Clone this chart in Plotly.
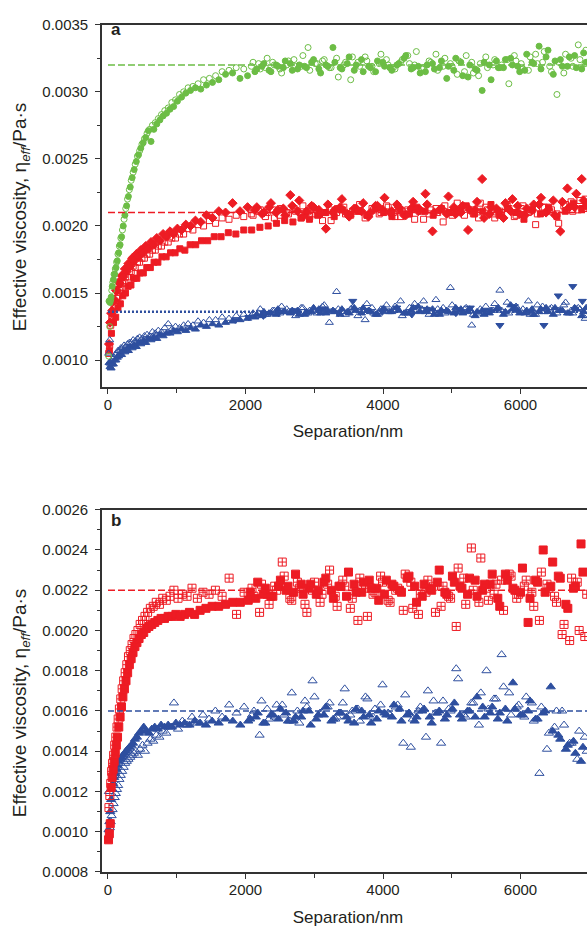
import plotly.graph_objects as go

# ---------------------------------------------------------------------------
# Effective viscosity vs. separation (values stored in mPa·s, separation in nm)
# ---------------------------------------------------------------------------
MPAS_TO_PAS = 1e-3

# ---- panel a: separation grids -------------------------------------------
sep_a1 = [
    10, 25, 40, 55, 70,
    88, 106, 125, 145, 165,
    187, 210, 234, 258, 284,
    310, 338, 366, 396, 428,
    460, 494, 530, 568, 606,
    646, 688, 732, 778, 826,
    876, 928, 982, 1040, 1100,
    1165, 1235, 1310, 1390, 1475,
    1565, 1660, 1760, 1865, 1975,
    2085, 2190, 2290, 2395, 2500,
    2600, 2705, 2810, 2910, 3015,
    3120, 3220, 3325, 3430, 3530,
    3635, 3740, 3840, 3945, 4050,
    4150, 4255, 4360, 4460, 4565,
    4670, 4770, 4875, 4980, 5080,
    5185, 5290, 5390, 5495, 5600,
    5700, 5805, 5910, 6010, 6115,
    6220, 6320, 6425, 6530, 6630,
    6735, 6840, 6940,
]
sep_a2 = [
    15, 30, 46, 62, 79,
    97, 116, 135, 155, 176,
    198, 222, 246, 271, 297,
    324, 352, 381, 412, 444,
    477, 512, 549, 587, 626,
    667, 710, 755, 802, 851,
    902, 955, 1010, 1070, 1132,
    1200, 1272, 1350, 1432, 1520,
    1612, 1710, 1812, 1920, 2030,
    2137, 2240, 2342, 2447, 2550,
    2652, 2757, 2860, 2962, 3067,
    3170, 3272, 3377, 3480, 3582,
    3687, 3790, 3892, 3997, 4100,
    4202, 4307, 4410, 4512, 4617,
    4720, 4822, 4927, 5030, 5132,
    5237, 5340, 5442, 5547, 5650,
    5752, 5857, 5960, 6062, 6167,
    6270, 6372, 6477, 6580, 6682,
    6787, 6890,
]
sep_a3 = [
    20, 50, 80, 112, 145,
    180, 216, 254, 293, 334,
    376, 420, 466, 514, 564,
    616, 670, 726, 785, 846,
    910, 976, 1045, 1118, 1195,
    1276, 1360, 1450, 1545, 1645,
    1750, 1860, 1975, 2090, 2210,
    2330, 2450, 2570, 2690, 2810,
    2930, 3050, 3170, 3290, 3410,
    3530, 3650, 3770, 3890, 4010,
    4130, 4250, 4370, 4490, 4610,
    4730, 4850, 4970, 5090, 5210,
    5330, 5450, 5570, 5690, 5810,
    5930, 6050, 6170, 6290, 6410,
    6530, 6650, 6770, 6890,
]
sep_a_down = [
    1850, 2050, 2260, 2480, 2700,
    2920, 3130, 3350, 3560, 3770,
    3990, 4200, 4420, 4630, 4850,
    5060, 5270, 5490, 5700, 5910,
    6130, 6340, 6550, 6760, 6900,
]
# repeat runs recorded over the plateau only
sep_a_far = [
    2110, 2215, 2315, 2420, 2525,
    2625, 2730, 2835, 2935, 3040,
    3145, 3245, 3350, 3455, 3555,
    3660, 3765, 3865, 3970, 4075,
    4175, 4280, 4385, 4485, 4590,
    4695, 4795, 4900, 5005, 5105,
    5210, 5315, 5415, 5520, 5625,
    5725, 5830, 5935, 6035, 6140,
    6245, 6345, 6450, 6555, 6655,
    6760, 6865, 6950,
]
sep_a_far2 = [
    2165, 2268, 2370, 2472, 2578,
    2680, 2782, 2888, 2990, 3092,
    3198, 3300, 3402, 3508, 3610,
    3712, 3818, 3920, 4022, 4128,
    4230, 4332, 4438, 4540, 4642,
    4748, 4850, 4952, 5058, 5160,
    5262, 5368, 5470, 5572, 5678,
    5780, 5882, 5988, 6090, 6192,
    6298, 6400, 6502, 6608, 6710,
    6812, 6918, 6955,
]

# ---- panel a: viscosities (mPa·s) ----------------------------------------
green_open = [
    1.03, 1.25, 1.45, 1.52, 1.58,
    1.64, 1.68, 1.73, 1.79, 1.85,
    1.91, 1.97, 2.05, 2.13, 2.20,
    2.27, 2.34, 2.40, 2.46, 2.52,
    2.56, 2.61, 2.65, 2.69, 2.72,
    2.75, 2.77, 2.80, 2.83, 2.86,
    2.88, 2.92, 2.94, 2.98, 3.00,
    3.03, 3.04, 3.06, 3.09, 3.10,
    3.12, 3.15, 3.16, 3.18, 3.17,
    3.19, 3.21, 3.18, 3.22, 3.17,
    3.20, 3.24, 3.19, 3.33, 3.21,
    3.23, 3.18, 3.25, 3.20, 3.09,
    3.22, 3.26, 3.19, 3.21, 3.24,
    3.18, 3.22, 3.27, 3.20, 3.17,
    3.23, 3.28, 3.19, 3.21, 3.13,
    3.15, 3.22, 3.12, 3.26, 3.20,
    3.18, 3.24, 3.27, 3.21, 3.16,
    3.28, 3.22, 3.19, 2.98, 3.14,
    3.25, 3.35, 3.21,
]
green_fill = [
    1.44, 1.43, 1.47, 1.55, 1.60,
    1.64, 1.69, 1.74, 1.80, 1.86,
    1.92, 2.00, 2.08, 2.15, 2.22,
    2.29, 2.36, 2.42, 2.48, 2.53,
    2.58, 2.62, 2.66, 2.71, 2.63,
    2.72, 2.76, 2.79, 2.82, 2.84,
    2.87, 2.89, 2.93, 2.96, 2.99,
    3.01, 3.03, 3.02, 3.05, 3.07,
    3.09, 3.13, 3.14, 3.10, 3.12,
    3.15, 3.19, 3.16, 3.20, 3.18,
    3.21, 3.17, 3.19, 3.22, 3.17,
    3.20, 3.33, 3.18, 3.21, 3.16,
    3.24, 3.19, 3.15, 3.22, 3.18,
    3.20, 3.25, 3.17, 3.19, 3.15,
    3.21, 3.18, 3.10, 3.16, 3.22,
    3.11, 3.17, 3.01, 3.20, 3.23,
    3.18, 3.25, 3.19, 3.16, 3.22,
    3.34, 3.26, 3.13, 3.24, 3.19,
    3.27, 3.17,
]
green_open_far = [
    3.22, 3.17, 3.25, 3.20, 3.14,
    3.23, 3.19, 3.27, 3.16, 3.21,
    3.24, 3.18, 3.11, 3.22, 3.26,
    3.19, 3.23, 3.15, 3.28, 3.20,
    3.17, 3.24, 3.21, 3.30, 3.18,
    3.22, 3.16, 3.25, 3.19, 3.23,
    3.27, 3.14, 3.21, 3.18, 3.24,
    3.20, 3.06, 3.23, 3.17, 3.26,
    3.21, 3.30, 3.15, 3.22, 3.28,
    3.19, 3.24, 3.31,
]
green_fill_far = [
    3.17, 3.21, 3.15, 3.19, 3.23,
    3.16, 3.20, 3.18, 3.24, 3.14,
    3.19, 3.22, 3.17, 3.26, 3.20,
    3.15, 3.18, 3.23, 3.19, 3.16,
    3.21, 3.27, 3.18, 3.14, 3.20,
    3.17, 3.23, 3.19, 3.25, 3.12,
    3.20, 3.16, 3.22, 3.09, 3.18,
    3.24, 3.20, 3.15, 3.28, 3.21,
    3.17, 3.31, 3.23, 3.19, 3.26,
    3.18, 3.29, 3.22,
]
red_diamond = [
    1.12, 1.28, 1.35, 1.37, 1.44,
    1.45, 1.52, 1.52, 1.58, 1.57,
    1.63, 1.62, 1.68, 1.66, 1.72,
    1.70, 1.76, 1.74, 1.79, 1.77,
    1.82, 1.80, 1.85, 1.83, 1.88,
    1.86, 1.91, 1.89, 1.94, 1.92,
    1.96, 1.94, 1.98, 1.97, 2.01,
    2.00, 2.04, 2.03, 2.08, 2.06,
    2.11, 2.10, 2.17, 2.11, 2.14,
    2.12, 2.09, 2.14, 2.10, 2.13,
    2.23, 2.11, 2.08, 2.15, 2.12,
    1.98, 2.10, 2.14, 2.09, 2.13,
    2.11, 2.07, 2.15, 2.12, 2.10,
    2.16, 2.08, 2.13, 2.11, 2.24,
    1.96, 2.12, 2.09, 2.14, 2.10,
    1.97, 2.12, 2.35, 2.09, 2.13,
    2.06, 2.11, 2.15, 2.08, 2.12,
    2.16, 2.10, 2.19, 1.96, 2.28,
    2.14, 2.35,
]
red_diamond_far = [
    2.14, 2.10, 2.17, 2.12, 2.08,
    2.15, 2.19, 2.11, 2.14, 2.09,
    2.16, 2.12, 2.20, 2.07, 2.13,
    2.17, 2.10, 2.15, 2.21, 2.11,
    2.14, 2.08, 2.18, 2.12, 2.16,
    2.10, 2.13, 2.22, 2.09, 2.15,
    2.12, 2.18, 2.06, 2.14, 2.11,
    2.17, 2.20, 2.09, 2.13, 2.16,
    2.21, 2.12, 2.08, 2.18, 2.14,
    2.24, 2.19, 2.15,
]
red_open_sq = [
    1.05, 1.11, 1.26, 1.31, 1.33,
    1.39, 1.40, 1.46, 1.47, 1.52,
    1.53, 1.57, 1.58, 1.62, 1.62,
    1.66, 1.66, 1.70, 1.69, 1.73,
    1.73, 1.76, 1.76, 1.79, 1.79,
    1.82, 1.82, 1.85, 1.85, 1.88,
    1.88, 1.91, 1.91, 1.94, 1.94,
    1.98, 1.97, 2.01, 2.00, 2.04,
    2.02, 2.06, 2.05, 2.08, 2.07,
    2.09, 2.11, 2.07, 2.12, 2.08,
    2.10, 2.13, 2.06, 2.11, 2.09,
    2.04, 2.12, 2.10, 2.14, 2.08,
    2.11, 2.06, 2.13, 2.09, 2.15,
    2.10, 2.07, 2.12, 2.05, 2.11,
    2.09, 2.13, 2.03, 2.10, 2.17,
    2.08, 2.12, 2.06, 2.14, 2.09,
    2.11, 2.16, 2.07, 2.13, 2.10,
    2.01, 2.14, 2.11, 2.09, 2.15,
    2.18, 2.12, 2.20,
]
red_open_sq_far = [
    2.08, 2.12, 2.10, 2.06, 2.13,
    2.09, 2.11, 2.15, 2.07, 2.12,
    2.10, 2.04, 2.13, 2.09, 2.11,
    2.16, 2.08, 2.12, 2.10, 2.14,
    2.07, 2.11, 2.09, 2.13, 2.05,
    2.12, 2.10, 2.15, 2.08, 2.11,
    2.14, 2.09, 2.17, 2.12, 2.06,
    2.10, 2.13, 2.08, 2.15, 2.11,
    2.09, 2.14, 2.12, 2.02, 2.16,
    2.11, 2.19, 2.13,
]
red_fill_sq = [
    1.07, 1.20, 1.28, 1.32, 1.39,
    1.42, 1.48, 1.50, 1.55, 1.56,
    1.61, 1.61, 1.65, 1.65, 1.69,
    1.69, 1.73, 1.73, 1.77, 1.77,
    1.80, 1.80, 1.83, 1.82, 1.86,
    1.86, 1.89, 1.89, 1.92, 1.92,
    1.95, 1.94, 1.97, 1.97, 1.99,
    2.00, 2.02, 2.04, 2.03, 2.06,
    2.05, 2.08, 2.10, 2.07, 2.12,
    2.09, 2.11, 2.08, 2.13, 2.10,
    2.07, 2.12, 2.09, 2.14, 2.11,
    2.08, 2.13, 2.10, 2.12, 2.15,
    2.09, 2.11, 2.16, 2.08, 2.13,
    2.10, 2.05, 2.12, 2.09, 2.14,
    2.07, 2.11, 2.17, 2.13,
]
blue_open_tri = [
    1.05, 1.15, 0.97, 0.99, 1.01,
    1.02, 1.04, 1.05, 1.07, 1.07,
    1.09, 1.09, 1.11, 1.10, 1.12,
    1.13, 1.13, 1.15, 1.14, 1.16,
    1.17, 1.16, 1.18, 1.19, 1.18,
    1.21, 1.20, 1.22, 1.21, 1.24,
    1.27, 1.23, 1.25, 1.24, 1.26,
    1.27, 1.26, 1.29, 1.28, 1.30,
    1.30, 1.32, 1.31, 1.33, 1.34,
    1.33, 1.35, 1.34, 1.37, 1.35,
    1.38, 1.36, 1.39, 1.35, 1.37,
    1.40, 1.28, 1.51, 1.36, 1.38,
    1.33, 1.30, 1.39, 1.36, 1.41,
    1.37, 1.44, 1.35, 1.42, 1.38,
    1.34, 1.45, 1.39, 1.54, 1.36,
    1.38, 1.26, 1.35, 1.40, 1.37,
    1.52, 1.43, 1.39, 1.36, 1.44,
    1.34, 1.40, 1.38, 1.35, 1.41,
    1.37, 1.39, 1.31,
]
blue_open_tri_far = [
    1.35, 1.38, 1.34, 1.37, 1.40,
    1.36, 1.33, 1.39, 1.37, 1.35,
    1.41, 1.36, 1.38, 1.34, 1.39,
    1.37, 1.42, 1.35, 1.38, 1.36,
    1.40, 1.33, 1.39, 1.37, 1.44,
    1.36, 1.38, 1.35, 1.41, 1.37,
    1.39, 1.34, 1.38, 1.36, 1.42,
    1.37, 1.35, 1.40, 1.38, 1.34,
    1.41, 1.36, 1.39, 1.37, 1.43,
    1.35, 1.38, 1.33,
]
blue_fill_tri = [
    0.98, 0.95, 0.94, 0.97, 0.97,
    1.00, 1.00, 1.02, 1.03, 1.05,
    1.04, 1.07, 1.06, 1.08, 1.07,
    1.10, 1.09, 1.11, 1.10, 1.13,
    1.12, 1.14, 1.13, 1.16, 1.15,
    1.17, 1.16, 1.19, 1.18, 1.20,
    1.20, 1.22, 1.21, 1.23, 1.22,
    1.24, 1.23, 1.26, 1.25, 1.27,
    1.26, 1.28, 1.29, 1.30, 1.31,
    1.32, 1.33, 1.35, 1.34, 1.36,
    1.35, 1.37, 1.34, 1.36, 1.38,
    1.35, 1.37, 1.34, 1.36, 1.39,
    1.35, 1.37, 1.34, 1.38, 1.36,
    1.39, 1.35, 1.37, 1.40, 1.36,
    1.38, 1.34, 1.37, 1.35, 1.38,
    1.36, 1.33, 1.37, 1.35, 1.38,
    1.34, 1.41, 1.37, 1.35, 1.38,
    1.36, 1.39, 1.34, 1.37, 1.35,
    1.39, 1.33,
]
blue_fill_tri_far = [
    1.34, 1.36, 1.35, 1.38, 1.36,
    1.37, 1.34, 1.36, 1.39, 1.35,
    1.37, 1.36, 1.38, 1.35, 1.37,
    1.39, 1.36, 1.34, 1.38, 1.36,
    1.37, 1.35, 1.39, 1.36, 1.38,
    1.34, 1.37, 1.36, 1.39, 1.35,
    1.38, 1.36, 1.34, 1.37, 1.39,
    1.36, 1.38, 1.35, 1.37, 1.34,
    1.38, 1.36, 1.39, 1.37, 1.35,
    1.38, 1.36, 1.39,
]
blue_down_tri = [
    1.30, 1.32, 1.33, 1.35, 1.37,
    1.36, 1.38, 1.35, 1.44, 1.37,
    1.36, 1.39, 1.34, 1.38, 1.36,
    1.35, 1.39, 1.37, 1.26, 1.40,
    1.36, 1.26, 1.48, 1.55, 1.44,
]
plateau_a = {"green": 3.20, "red": 2.10, "blue": 1.36}

# ---- panel b --------------------------------------------------------------
sep_b1 = [
    8, 20, 33, 46, 60,
    75, 90, 106, 122, 139,
    157, 176, 196, 217, 239,
    262, 286, 311, 337, 364,
    392, 421, 452, 485, 520,
    557, 596, 637, 680, 725,
    772, 822, 875, 930, 988,
    1050, 1115, 1185, 1260, 1340,
    1425, 1515, 1610, 1710, 1815,
    1925, 2040, 2150, 2260, 2370,
    2480, 2590, 2700, 2810, 2920,
    3030, 3140, 3250, 3360, 3470,
    3580, 3690, 3800, 3910, 4020,
    4130, 4240, 4350, 4460, 4570,
    4680, 4790, 4900, 5010, 5120,
    5230, 5340, 5450, 5560, 5670,
    5780, 5890, 6000, 6110, 6220,
    6330, 6440, 6550, 6660, 6770,
    6880,
]
sep_b2 = [
    14, 27, 40, 53, 67,
    82, 98, 114, 131, 148,
    166, 186, 206, 228, 250,
    274, 298, 324, 350, 378,
    406, 436, 468, 502, 538,
    576, 616, 658, 702, 748,
    797, 848, 902, 959, 1019,
    1082, 1150, 1222, 1300, 1382,
    1470, 1562, 1660, 1762, 1870,
    1980, 2095, 2205, 2315, 2425,
    2535, 2645, 2755, 2865, 2975,
    3085, 3195, 3305, 3415, 3525,
    3635, 3745, 3855, 3965, 4075,
    4185, 4295, 4405, 4515, 4625,
    4735, 4845, 4955, 5065, 5175,
    5285, 5395, 5505, 5615, 5725,
    5835, 5945, 6055, 6165, 6275,
    6385, 6495, 6605, 6715, 6825,
    6935,
]
sep_b_far = [
    2068, 2178, 2288, 2398, 2508,
    2618, 2728, 2838, 2948, 3058,
    3168, 3278, 3388, 3498, 3608,
    3718, 3828, 3938, 4048, 4158,
    4268, 4378, 4488, 4598, 4708,
    4818, 4928, 5038, 5148, 5258,
    5368, 5478, 5588, 5698, 5808,
    5918, 6028, 6138, 6248, 6358,
    6468, 6578, 6688, 6798, 6908,
]
sep_b_far2 = [
    2123, 2233, 2343, 2453, 2563,
    2673, 2783, 2893, 3003, 3113,
    3223, 3333, 3443, 3553, 3663,
    3773, 3883, 3993, 4103, 4213,
    4323, 4433, 4543, 4653, 4763,
    4873, 4983, 5093, 5203, 5313,
    5423, 5533, 5643, 5753, 5863,
    5973, 6083, 6193, 6303, 6413,
    6523, 6633, 6743, 6853, 6963,
]
red_b_fill = [
    0.96, 0.99, 1.04, 1.22, 1.27,
    1.31, 1.35, 1.39, 1.43, 1.47,
    1.52, 1.57, 1.62, 1.67, 1.71,
    1.75, 1.79, 1.83, 1.86, 1.89,
    1.92, 1.94, 1.96, 1.98, 1.99,
    2.01, 2.02, 2.03, 2.04, 2.05,
    2.06, 2.06, 2.07, 2.07, 2.08,
    2.07, 2.08, 2.09, 2.08, 2.10,
    2.11, 2.12, 2.12, 2.13, 2.14,
    2.14, 2.15, 2.16, 2.18, 2.17,
    2.22, 2.20, 2.19, 2.23, 2.21,
    2.18, 2.24, 2.20, 2.22, 2.17,
    2.23, 2.19, 2.25, 2.21, 2.18,
    2.23, 2.20, 2.26, 2.22, 2.17,
    2.21, 2.24, 2.19, 2.27, 2.22,
    2.18, 2.25, 2.20, 2.23, 2.16,
    2.28, 2.21, 2.19, 2.04, 2.25,
    2.40, 2.22, 2.27, 2.13, 2.21,
    2.43,
]
red_b_fill_far = [
    2.19, 2.24, 2.21, 2.17, 2.25,
    2.22, 2.28, 2.18, 2.23, 2.20,
    2.26, 2.16, 2.22, 2.29, 2.19,
    2.24, 2.21, 2.15, 2.25, 2.22,
    2.19, 2.27, 2.14, 2.23, 2.20,
    2.30, 2.18, 2.24, 2.21, 2.26,
    2.17, 2.23, 2.28, 2.12, 2.25,
    2.20, 2.31, 2.16, 2.24, 2.19,
    2.34, 2.26, 2.11, 2.22, 2.29,
]
red_b_grid = [
    1.12, 1.18, 1.24, 1.30, 1.34,
    1.38, 1.43, 1.47, 1.52, 1.56,
    1.61, 1.66, 1.71, 1.75, 1.79,
    1.83, 1.87, 1.90, 1.93, 1.96,
    1.98, 2.00, 2.03, 2.05, 2.07,
    2.09, 2.11, 2.12, 2.14, 2.13,
    2.16, 2.15, 2.17, 2.20, 2.16,
    2.18, 2.17, 2.21, 2.16, 2.19,
    2.18, 2.20, 2.17, 2.26, 2.08,
    2.19, 2.21, 2.09, 2.18, 2.22,
    2.34, 2.16, 2.24, 2.13, 2.20,
    2.14, 2.23, 2.17, 2.25, 2.11,
    2.05, 2.21, 2.18, 2.27, 2.15,
    2.20, 2.10, 2.24, 2.08, 2.19,
    2.22, 2.12, 2.17, 2.02, 2.26,
    2.41, 2.14, 2.21, 2.18, 2.25,
    2.28, 2.16, 2.22, 2.19, 2.05,
    2.23, 2.17, 1.98, 1.95, 2.24,
    1.97,
]
red_b_grid_far = [
    2.17, 2.23, 2.13, 2.20, 2.27,
    2.15, 2.21, 2.09, 2.24, 2.18,
    2.30, 2.12, 2.22, 2.16, 2.26,
    2.07, 2.19, 2.24, 2.14, 2.21,
    2.28, 2.11, 2.18, 2.25, 2.09,
    2.22, 2.16, 2.31, 2.13, 2.20,
    2.36, 2.15, 2.23, 2.10, 2.27,
    2.18, 2.25, 2.12, 2.29, 2.21,
    2.14, 2.03, 2.26, 2.00, 2.18,
]
blue_b_fill = [
    1.01, 1.05, 1.10, 1.16, 1.21,
    1.24, 1.27, 1.29, 1.31, 1.33,
    1.35, 1.36, 1.37, 1.38, 1.39,
    1.40, 1.41, 1.42, 1.43, 1.44,
    1.46, 1.47, 1.49, 1.50, 1.52,
    1.50, 1.49, 1.51, 1.52, 1.51,
    1.53, 1.52, 1.53, 1.52, 1.54,
    1.53, 1.54, 1.53, 1.55, 1.54,
    1.53, 1.55, 1.54, 1.56, 1.55,
    1.53, 1.55, 1.57, 1.54, 1.58,
    1.56, 1.59, 1.55, 1.57, 1.60,
    1.56, 1.58, 1.55, 1.59, 1.57,
    1.54, 1.60, 1.58, 1.56, 1.59,
    1.57, 1.61, 1.58, 1.55, 1.60,
    1.57, 1.59, 1.56, 1.61, 1.58,
    1.60, 1.57, 1.62, 1.59, 1.56,
    1.61, 1.74, 1.58, 1.60, 1.56,
    1.59, 1.72, 1.48, 1.41, 1.45,
    1.35,
]
blue_b_fill_far = [
    1.56, 1.59, 1.54, 1.58, 1.61,
    1.55, 1.57, 1.60, 1.53, 1.58,
    1.62, 1.56, 1.59, 1.55, 1.61,
    1.57, 1.54, 1.60, 1.58, 1.63,
    1.55, 1.59, 1.57, 1.61, 1.54,
    1.60, 1.58, 1.64, 1.56, 1.60,
    1.67, 1.57, 1.62, 1.59, 1.55,
    1.61, 1.58, 1.65, 1.56, 1.60,
    1.50, 1.46, 1.43, 1.39, 1.42,
]
blue_b_open = [
    1.20, 1.02, 1.05, 1.08, 1.11,
    1.14, 1.17, 1.19, 1.21, 1.23,
    1.26, 1.28, 1.30, 1.32, 1.34,
    1.35, 1.36, 1.37, 1.38, 1.39,
    1.40, 1.38, 1.41, 1.43, 1.40,
    1.44, 1.46, 1.45, 1.48, 1.47,
    1.50, 1.49, 1.52, 1.64, 1.51,
    1.55, 1.53, 1.57, 1.54, 1.58,
    1.56, 1.60, 1.57, 1.63, 1.59,
    1.62, 1.58, 1.48, 1.61, 1.57,
    1.63, 1.55, 1.60, 1.65, 1.75,
    1.59, 1.62, 1.56, 1.64, 1.58,
    1.61, 1.67, 1.57, 1.63, 1.59,
    1.62, 1.44, 1.42, 1.60, 1.47,
    1.65, 1.44, 1.61, 1.81, 1.58,
    1.64, 1.53, 1.80, 1.66, 1.88,
    1.69, 1.62, 1.57, 1.64, 1.29,
    1.41, 1.52, 1.60, 1.44, 1.36,
    1.47,
]
blue_b_open_far = [
    1.60, 1.65, 1.56, 1.63, 1.58,
    1.69, 1.54, 1.62, 1.67, 1.59,
    1.64, 1.57, 1.71, 1.60, 1.55,
    1.66, 1.61, 1.73, 1.58, 1.63,
    1.68, 1.56, 1.62, 1.70, 1.59,
    1.65, 1.60, 1.76, 1.57, 1.64,
    1.69, 1.61, 1.66, 1.72, 1.58,
    1.63, 1.67, 1.55, 1.62, 1.49,
    1.60, 1.53, 1.44, 1.50, 1.40,
]
plateau_b = {"red": 2.20, "blue": 1.60}

plateau_span = [0, 7000]  # separation range covered by the bulk-value lines (nm)

# ---------------------------------------------------------------------------
GREEN = "#6cbd45"
RED = "#ed1c24"
BLUE = "#2e4f9f"
AXIS = "#333333"
TEXT = "#231f20"
FONT = "Liberation Sans, Arial, sans-serif"

W, H = 587, 934
X_RANGE = [-87, 6967]
PLOT_LEFT = 102


def pas(vals):
    return [v * MPAS_TO_PAS for v in vals]


def fx(px):
    return px / W


def fy(px):
    return 1 - px / H


fig = go.Figure()


def add_points(xs, ys, symbol, color, size, axes, lw=1.0):
    xa, ya = axes
    fig.add_trace(go.Scatter(
        x=xs, y=pas(ys), mode="markers", xaxis=xa, yaxis=ya,
        marker=dict(symbol=symbol, color=color, size=size,
                    line=dict(color=color, width=lw)),
        showlegend=False, hoverinfo="skip",
    ))


def add_plateau(level, color, dash, axes, width=1.5):
    xa, ya = axes
    fig.add_trace(go.Scatter(
        x=plateau_span, y=pas([level, level]), mode="lines",
        xaxis=xa, yaxis=ya,
        line=dict(color=color, dash=dash, width=width),
        showlegend=False, hoverinfo="skip",
    ))


A = ("x", "y")
B = ("x2", "y2")

# panel a
add_points(sep_a3, red_fill_sq, "square", RED, 6, A)
add_points(sep_a2, red_diamond, "diamond", RED, 7, A)
add_points(sep_a_far2, red_diamond_far, "diamond", RED, 7, A)
add_points(sep_a1, red_open_sq, "square-open", RED, 6, A)
add_points(sep_a_far, red_open_sq_far, "square-open", RED, 6, A)
add_points(sep_a2, blue_fill_tri, "triangle-up", BLUE, 7, A)
add_points(sep_a_far2, blue_fill_tri_far, "triangle-up", BLUE, 7, A)
add_points(sep_a_down, blue_down_tri, "triangle-down", BLUE, 7, A)
add_points(sep_a1, blue_open_tri, "triangle-up-open", BLUE, 7, A)
add_points(sep_a_far, blue_open_tri_far, "triangle-up-open", BLUE, 7, A)
add_points(sep_a2, green_fill, "circle", GREEN, 6, A)
add_points(sep_a_far2, green_fill_far, "circle", GREEN, 6, A)
add_points(sep_a1, green_open, "circle-open", GREEN, 6, A)
add_points(sep_a_far, green_open_far, "circle-open", GREEN, 6, A)
add_plateau(plateau_a["green"], GREEN, "7px,3px", A)
add_plateau(plateau_a["red"], RED, "7px,3px", A)
add_plateau(plateau_a["blue"], BLUE, "2px,2px", A, width=2.5)

# panel b
add_points(sep_b1, blue_b_fill, "triangle-up", BLUE, 8, B)
add_points(sep_b_far, blue_b_fill_far, "triangle-up", BLUE, 8, B)
add_points(sep_b2, blue_b_open, "triangle-up-open", BLUE, 8, B)
add_points(sep_b_far2, blue_b_open_far, "triangle-up-open", BLUE, 8, B)
add_points(sep_b1, red_b_fill, "square", RED, 8, B)
add_points(sep_b_far, red_b_fill_far, "square", RED, 8, B)
add_points(sep_b2, red_b_grid, "square-cross-open", RED, 8, B)
add_points(sep_b_far2, red_b_grid_far, "square-cross-open", RED, 8, B)
add_plateau(plateau_b["red"], RED, "7px,3px", B)
add_plateau(plateau_b["blue"], BLUE, "6px,3px", B)

# Axis titles are placed on a page-sized pixel layer (x3/y3) so the bottom
# title can sit right at the page edge.
fig.add_trace(go.Scatter(
    x=[348, 348], y=[432, 927], mode="text",
    text=["Separation/nm", "Separation/nm"], textposition="middle center",
    textfont=dict(family=FONT, size=17, color=TEXT),
    xaxis="x3", yaxis="y3", cliponaxis=False,
    showlegend=False, hoverinfo="skip",
))

x_common = dict(
    domain=[fx(PLOT_LEFT), 1.0], range=X_RANGE,
    tickmode="linear", tick0=0, dtick=2000,
    ticks="outside", ticklen=5, tickwidth=1.2, tickcolor=AXIS,
    minor=dict(tick0=0, dtick=1000, ticks="outside", ticklen=4,
               tickwidth=1.2, tickcolor=AXIS),
    showline=True, linecolor=AXIS, linewidth=1.6, mirror=True,
    showgrid=False, zeroline=False,
    tickfont=dict(family=FONT, size=15, color=TEXT),
    ticklabelstandoff=-2,
)
y_common = dict(
    ticks="outside", ticklen=5, tickwidth=1.2, tickcolor=AXIS,
    showline=True, linecolor=AXIS, linewidth=1.6, mirror=False,
    showgrid=False, zeroline=False, tickformat=".4f",
    tickfont=dict(family=FONT, size=15, color=TEXT),
    ticklabelstandoff=4,
)

fig.update_layout(
    width=W, height=H,
    margin=dict(l=0, r=0, t=0, b=0),
    paper_bgcolor="white", plot_bgcolor="rgba(0,0,0,0)",
    font=dict(family=FONT, color=TEXT),
    xaxis=dict(anchor="y", **x_common),
    xaxis2=dict(anchor="y2", **x_common),
    yaxis=dict(anchor="x", domain=[fy(385), fy(16)], range=[0.0008, 0.0035],
               tickmode="linear", tick0=0.001, dtick=0.0005,
               minor=dict(tick0=0.001, dtick=0.00025, ticks="outside",
                          ticklen=3, tickwidth=1.2, tickcolor=AXIS),
               **y_common),
    yaxis2=dict(anchor="x2", domain=[fy(879), fy(510)], range=[0.0008, 0.0026],
                tickmode="linear", tick0=0.0008, dtick=0.0002,
                minor=dict(tick0=0.0008, dtick=0.0001, ticks="outside",
                           ticklen=3, tickwidth=1.2, tickcolor=AXIS),
                **y_common),
    xaxis3=dict(anchor="y3", domain=[0, 1], range=[0, W], visible=False,
                fixedrange=True),
    yaxis3=dict(anchor="x3", domain=[0, 1], range=[H, 0], visible=False,
                fixedrange=True),
)

y_title = "Effective viscosity, \u03b7<sub><i>eff</i></sub>/Pa\u00b7s"
notes = [
    dict(text="<b>a</b>", x=fx(116), y=fy(21), size=17, angle=0),
    dict(text="<b>b</b>", x=fx(116), y=fy(521), size=17, angle=0),
    dict(text=y_title, x=fx(21), y=fy(212), size=19, angle=-90),
    dict(text=y_title, x=fx(21), y=fy(707), size=19, angle=-90),
]
for n in notes:
    fig.add_annotation(
        text=n["text"], x=n["x"], y=n["y"], xref="paper", yref="paper",
        xanchor="center", yanchor="middle", showarrow=False,
        textangle=n["angle"],
        font=dict(family=FONT, size=n["size"], color=TEXT),
    )

fig.write_html("out.html", config={"displayModeBar": False})
